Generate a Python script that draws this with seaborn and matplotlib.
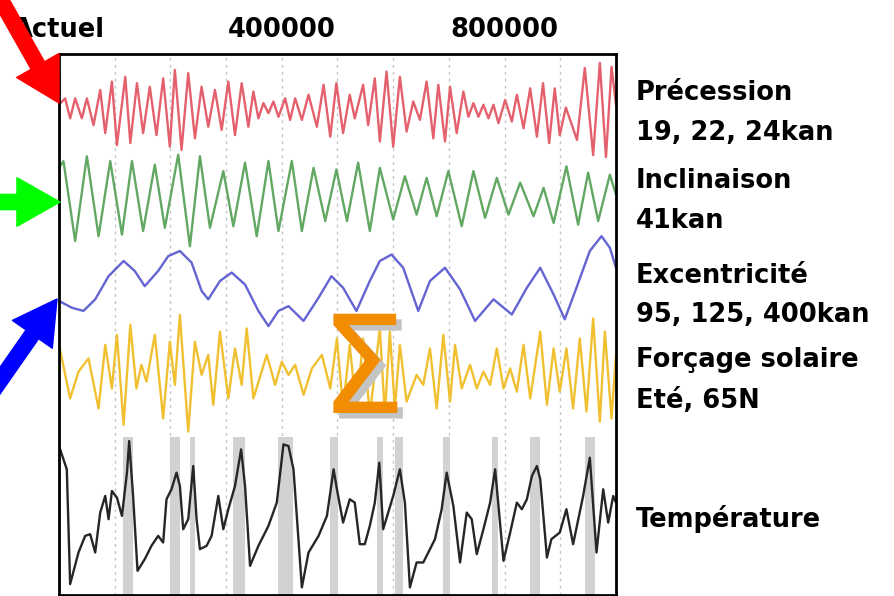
import numpy as np
import pandas as pd
import matplotlib
matplotlib.use("Agg")
import matplotlib.pyplot as plt
import matplotlib.patheffects as pe
from matplotlib.patches import FancyArrowPatch
import seaborn as sns

# Milankovitch cycles over the last 1 Myr (arbitrary units)
prec_kyr = [0, 11, 20, 29, 41, 50, 62, 74, 83, 95, 104, 119, 128, 140, 151, 163, 175, 187, 199, 208,
            220, 232, 244, 256, 268, 280, 292, 304, 316, 328, 340, 349, 358, 367, 376, 385, 394, 406,
            415, 424, 436, 448, 463, 475, 487, 498, 510, 522, 531, 546, 555, 567, 576, 588, 600, 612,
            624, 636, 648, 660, 672, 681, 693, 702, 714, 726, 735, 744, 753, 762, 771, 780, 789, 801,
            813, 822, 834, 846, 858, 869, 880, 890, 899, 910, 930, 944, 959, 971, 982, 992, 1000]
prec_val = [0.13, 0.29, -0.21, 0.29, -0.21, 0.29, -0.38, 0.50, -0.58, 0.71, -0.88, 0.83, -0.83, 0.67,
            -0.58, 0.58, -0.63, 0.79, -0.92, 1.00, -1.00, 0.92, -0.71, 0.58, -0.42, 0.50, -0.50, 0.71,
            -0.63, 0.67, -0.42, 0.46, -0.21, 0.17, -0.08, 0.21, -0.17, 0.29, -0.25, 0.29, -0.25, 0.38,
            -0.42, 0.63, -0.67, 0.67, -0.58, 0.38, -0.21, 0.63, -0.38, 0.79, -0.79, 0.96, -0.92, 0.83,
            -0.54, 0.21, -0.25, 0.71, -0.71, 0.63, -0.79, 0.58, -0.58, 0.46, -0.17, 0.17, -0.17, 0.13,
            -0.21, 0.13, -0.33, 0.25, -0.29, 0.38, -0.46, 0.54, -0.67, 0.67, -0.83, 0.54, -0.63, 0.06,
            -0.75, 1.05, -1.13, 1.18, -1.18, 1.08, 0.13]

obl_kyr = [0, 8, 29, 50, 71, 92, 113, 131, 151, 172, 190, 214, 235, 253, 271, 295, 313, 334, 355, 376,
           394, 418, 436, 457, 478, 498, 517, 537, 558, 576, 600, 621, 642, 660, 678, 699, 723, 744,
           765, 786, 807, 828, 852, 870, 888, 911, 932, 950, 968, 989, 1000]
obl_val = [0.75, 0.92, -1.08, 1.04, -0.96, 0.92, -0.92, 0.92, -0.83, 0.83, -0.75, 1.08, -1.21, 1.04,
           -0.75, 0.67, -0.71, 0.88, -0.96, 0.92, -0.83, 0.92, -0.83, 0.75, -0.58, 0.71, -0.58, 0.88,
           -0.83, 0.75, -0.54, 0.54, -0.42, 0.50, -0.46, 0.67, -0.71, 0.67, -0.50, 0.50, -0.42, 0.38,
           -0.46, 0.25, -0.63, 0.79, -0.67, 0.63, -0.58, 0.58, 0.08]

ecc_kyr = [0, 23, 44, 65, 89, 116, 136, 154, 178, 196, 217, 238, 256, 268, 289, 310, 334, 358, 376,
           394, 412, 439, 466, 489, 510, 534, 558, 576, 597, 618, 645, 666, 693, 720, 747, 780, 813,
           840, 864, 888, 908, 929, 953, 974, 989, 1000]
ecc_val = [-0.33, -0.50, -0.58, -0.29, 0.29, 0.67, 0.42, 0.04, 0.42, 0.79, 0.92, 0.63, -0.08, -0.29,
           0.17, 0.38, 0.08, -0.58, -0.96, -0.58, -0.46, -0.83, -0.25, 0.29, 0.00, -0.58, 0.17, 0.67,
           0.83, 0.50, -0.58, 0.17, 0.50, -0.04, -0.83, -0.29, -0.67, 0.00, 0.50, -0.17, -0.79, 0.00,
           0.92, 1.29, 1.00, 0.50]

ins_kyr = [0, 20, 35, 53, 71, 83, 95, 104, 116, 128, 139, 148, 157, 172, 187, 199, 208, 217, 232, 244,
           256, 268, 277, 289, 304, 316, 328, 337, 349, 373, 388, 400, 412, 424, 439, 454, 472, 487,
           499, 510, 522, 534, 546, 558, 576, 585, 594, 603, 612, 624, 642, 654, 666, 678, 690, 702,
           711, 723, 738, 750, 762, 774, 786, 798, 810, 822, 834, 846, 864, 876, 888, 899, 911, 923,
           935, 947, 959, 971, 980, 992, 1000]
ins_val = [0.67, -0.67, 0.00, 0.33, -0.92, 0.67, -0.42, 0.92, -1.33, 1.17, -0.42, 0.17, -0.25, 0.92,
           -1.17, 0.75, -0.33, 1.42, -1.50, 0.75, -0.08, 0.42, -0.83, 1.00, -0.67, 0.58, -0.33, 1.08,
           -0.67, 0.42, -0.33, 0.25, -0.08, 0.17, -0.58, 0.08, 0.42, -0.42, 0.83, -0.92, 0.67, -1.00,
           0.83, -1.08, 1.08, -1.08, 1.00, -0.92, 0.67, -0.75, -0.08, -0.33, 0.58, -0.92, 0.92, -0.75,
           0.67, -0.42, 0.17, -0.42, 0.00, -0.33, 0.58, -0.42, 0.08, -0.50, 0.67, -0.67, 1.00, -0.83,
           0.58, -0.50, 0.58, -0.92, 0.83, -1.00, 1.33, -1.25, 1.00, -1.17, 0.42]

temp_kyr = [0, 14, 20, 35, 47, 56, 65, 74, 83, 89, 95, 104, 113, 122, 126, 133, 141, 154, 166, 178,
            187, 193, 202, 211, 217, 223, 232, 241, 247, 253, 265, 274, 286, 295, 304, 316, 327, 334,
            343, 358, 376, 391, 403, 412, 421, 436, 448, 466, 481, 493, 499, 510, 522, 531, 540, 549,
            558, 567, 575, 582, 591, 600, 612, 621, 630, 642, 654, 663, 675, 687, 696, 708, 720, 732,
            741, 750, 762, 774, 783, 798, 810, 822, 831, 840, 849, 858, 864, 876, 884, 899, 911, 923,
            941, 953, 965, 977, 986, 995, 1000]
temp_val = [4.4, 3.7, 0.25, 1.2, 1.7, 1.75, 1.2, 2.4, 2.9, 2.2, 3.05, 2.85, 2.3, 3.6, 4.55, 2.9, 0.65,
            1.0, 1.4, 1.7, 1.5, 2.8, 3.1, 3.6, 3.2, 1.9, 2.2, 3.8, 2.2, 1.3, 1.4, 1.7, 2.9, 1.9, 2.5,
            3.2, 4.3, 3.2, 0.8, 1.4, 2.0, 2.7, 4.45, 4.4, 3.7, 0.15, 1.2, 1.7, 2.3, 3.7, 3.1, 2.1, 2.8,
            2.7, 1.45, 1.45, 2.0, 2.7, 3.9, 1.9, 2.4, 2.9, 3.7, 2.7, 0.15, 0.9, 0.9, 1.2, 1.6, 2.5, 3.6,
            2.6, 0.9, 2.4, 2.2, 1.15, 1.9, 2.7, 3.7, 0.95, 1.8, 2.7, 2.5, 2.8, 3.5, 3.8, 3.4, 1.05, 1.6,
            1.8, 2.5, 1.45, 2.9, 4.05, 1.2, 3.1, 2.1, 2.9, 2.7]

# interglacial periods (grey bands)
warm_start = [115, 199, 235, 312, 393, 487, 571, 603, 689, 777, 846, 944]
warm_end = [133, 217, 244, 334, 420, 501, 582, 618, 702, 788, 864, 962]

grid_kyr = [100, 200, 300, 400, 500, 600, 700, 800, 900]
tick_years = [0, 400000, 800000]
tick_labels = ["Actuel", "400000", "800000"]

labels = ["Précession", "19, 22, 24kan", "Inclinaison", "41kan", "Excentricité",
          "95, 125, 400kan", "Forçage solaire", "Eté, 65N", "Température"]

sns.set_style("white")
plt.rcParams["font.family"] = ["DejaVu Sans"]

W, H = 895, 596
fig = plt.figure(figsize=(W / 100, H / 100), dpi=100)
ax = fig.add_axes([59 / W, 0.001, 557 / W, 1 - 54 / H - 0.001])
ax.set_xlim(0, 1000000)
ax.set_ylim(542, 0)   # pixel-like units, top down

# grid + interglacials
for g in grid_kyr:
    ax.axvline(g * 1000, color="#c4c4c4", lw=1, ls=(0, (2, 3)), zorder=0)
for a, b in zip(warm_start, warm_end):
    ax.axvspan(a * 1000, b * 1000, ymin=0, ymax=0.293, color="#d2d2d2", lw=0, zorder=0)

series = [
    (prec_kyr, prec_val, 56, 40, "#e4606c"),
    (obl_kyr, obl_val, 144, 40, "#62a862"),
    (ecc_kyr, ecc_val, 234, 40, "#6464d2"),
    (ins_kyr, ins_val, 318, 40, "#f0c030"),
    (temp_kyr, temp_val, 539, 33.3, "#262626"),
]
for kyr, val, center, scale, col in series:
    df = pd.DataFrame({"t": np.array(kyr) * 1000, "y": center - scale * np.array(val)})
    sns.lineplot(data=df, x="t", y="y", ax=ax, color=col, lw=1.7, estimator=None, sort=False)
for ln in ax.get_lines():
    ln.set_solid_joinstyle("round")

ax.set_xlabel("")
ax.set_ylabel("")
ax.set_yticks([])
ax.xaxis.tick_top()
ax.set_xticks(tick_years, tick_labels)
ax.tick_params(axis="x", length=0, pad=8, labelsize=18.5, labelcolor="black")
for t in ax.get_xticklabels():
    t.set_fontweight("bold")
for s in ax.spines.values():
    s.set_color("black")
    s.set_linewidth(2)

# summation sign with a grey drop shadow
ax.text(0.546, 0.337, "Σ", transform=ax.transAxes, fontsize=98,
        color="#f28c00", ha="center", va="baseline", zorder=6,
        path_effects=[pe.SimplePatchShadow(offset=(4, -4), shadow_rgbFace="#c4c4c4", alpha=1),
                      pe.Normal()])

# right-side labels (baselines in image pixels)
baselines = [100, 140, 188, 228, 283, 322, 367, 408, 527]
for txt, yb in zip(labels, baselines):
    fig.text(636 / W, 1 - yb / H, txt, fontsize=18.5, fontweight="bold", color="black",
             va="baseline", ha="left")

# coloured arrows pointing at each curve start
arrows = [((-6, -12), (59, 103), "#ff0000"),
          ((-2, 202), (60, 202), "#00ff00"),
          ((-10, 395), (57, 299), "#0000ff")]
for (x0, y0), (x1, y1), col in arrows:
    fig.add_artist(FancyArrowPatch((x0, H - y0), (x1, H - y1), transform=None,
                                   arrowstyle="simple,head_length=31,head_width=35,tail_width=11",
                                   mutation_scale=1, color=col, shrinkA=0, shrinkB=0))

fig.savefig("out.png", dpi=100)
